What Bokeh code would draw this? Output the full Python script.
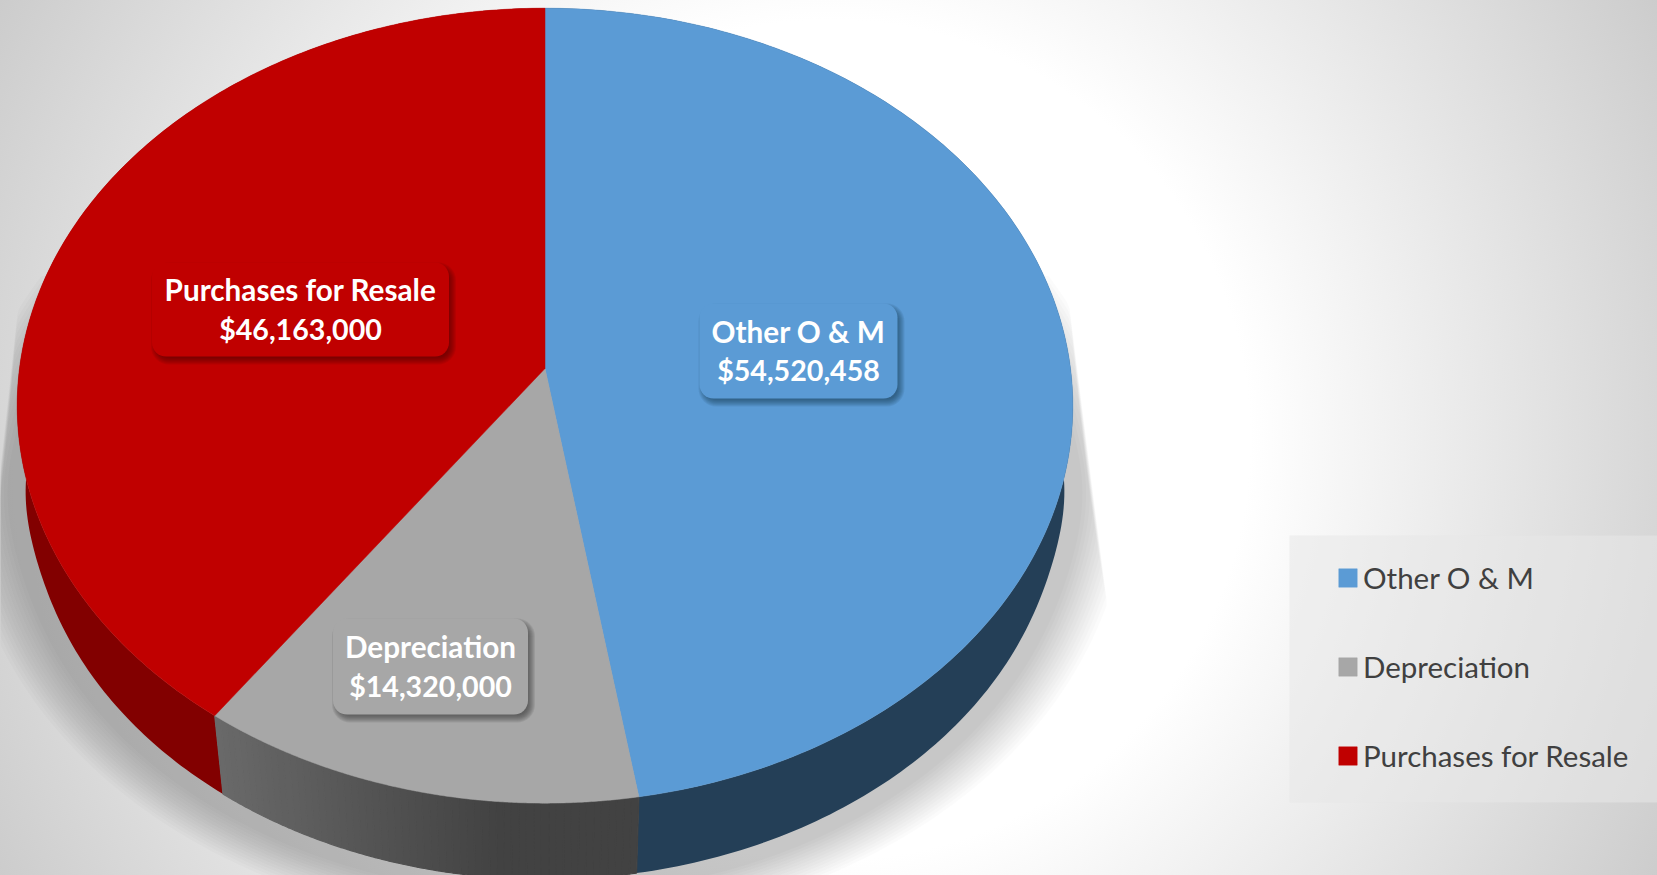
import numpy as np
from bokeh.core.properties import value
from bokeh.embed import file_html
from bokeh.models import Legend, LegendItem, Range1d
from bokeh.plotting import figure
from bokeh.resources import INLINE

# ---- data ----
categories = ["Other O & M", "Depreciation", "Purchases for Resale"]
amounts = [54520458, 14320000, 46163000]
top_colors = ["#5B9BD5", "#A7A7A7", "#C00000"]
wall_colors = ["#243F57", "#444444", "#820000"]
shadow_box_colors = ["#1F3D5C", "#3A3A3A", "#500000"]

# ---- layout (reference pixel space) ----
W, H = 1657, 875
CX, CY = 544.5, 368.0      # apex on the top face
A, B, K = 525.5, 394.0, 0.0935  # perspective projection of the unit disc
S, CY2 = 0.975, 455.0      # lower face of the 3-D pie
box_centres = [(798, 350.5), (430, 666), (300, 309)]
box_sizes = [(198, 95), (195, 96), (297, 94)]


def rim(deg):
    t = np.radians(deg)
    u, v = np.sin(t), np.cos(t)
    w = 1 + K * v
    return CX + A * u / w, CY - B * v / w


def lower(x, y):
    s = S + 0.009 * np.exp(-(((y - CY - 37) / 70) ** 2))
    return CX + s * (x - CX), CY2 + S * (y - CY)


def rounded(cx, cy, w, h, r=14, grow=0.0):
    w, h, r = w + 2 * grow, h + 2 * grow, r + grow
    xs, ys = [], []
    corners = [(cx + w / 2 - r, cy - h / 2 + r, -90), (cx + w / 2 - r, cy + h / 2 - r, 0),
               (cx - w / 2 + r, cy + h / 2 - r, 90), (cx - w / 2 + r, cy - h / 2 + r, 180)]
    for ox, oy, a0 in corners:
        a = np.radians(np.linspace(a0, a0 + 90, 9))
        xs += list(ox + r * np.cos(a))
        ys += list(oy + r * np.sin(a))
    return xs, ys


p = figure(width=W, height=H, x_range=Range1d(0, W), y_range=Range1d(H, 0),
           output_backend="svg", toolbar_location=None, min_border=0,
           margin=(0, 0, 0, 0))
p.axis.visible = False
p.grid.visible = False
p.outline_line_color = None
p.background_fill_alpha = 0
p.border_fill_alpha = 0
p.styles = {
    "background": "radial-gradient(circle at 830px 440px, #ffffff 0px, #ffffff 420px, #cbcbcb 950px)"
}

# ---- drop shadow: stacked translucent outlines clipped to a wedge ----
deg_all = np.linspace(0, 360, 361)
rx, ry = rim(deg_all)
lx, ly = lower(rx, ry)
N = 14
for i in range(N):
    d = 66 - (66 - 18) * i / (N - 1)
    grow = (528.5 * S + d) / (528.5 * S)
    sx = CX + grow * (lx - CX)
    sy = (CY2 + 40 * S) + grow * (ly - (CY2 + 40 * S)) + 2
    left_edge = 21 - 0.11 * (sy - 275) + 0.3 * i
    right_edge = 1065 + 0.127 * (sy - 275) - 0.3 * i
    sx = np.clip(sx, left_edge, right_edge)
    sy = np.maximum(sy, 275 + 6 * i)
    p.patch(sx, sy, fill_color="black", fill_alpha=0.0165, line_color=None)

# ---- walls and top faces, all from the amounts ----
fractions = np.array(amounts) / sum(amounts)
edges = np.concatenate([[0], np.cumsum(fractions) * 360])
spans = [np.linspace(edges[i], edges[i + 1], 200) for i in range(3)]

for i in (0, 2):
    tx, ty = rim(spans[i])
    bx, by = lower(tx, ty)
    p.patch(np.r_[tx, bx[::-1]], np.r_[ty, by[::-1]], fill_color=wall_colors[i], line_color=None)

# gradient on the wall of the small slice
strip = np.linspace(edges[1], edges[2], 61)
for a0, a1 in zip(strip[:-1], strip[1:]):
    seg = np.linspace(a0, a1, 4)
    tx, ty = rim(seg)
    bx, by = lower(tx, ty)
    t = np.clip((500 - tx.mean()) / 286, 0, 1)
    g = int(0x42 + (0x6A - 0x42) * t)
    c = f"#{g:02x}{g:02x}{g:02x}"
    p.patch(np.r_[tx, bx[::-1]], np.r_[ty, by[::-1]], fill_color=c, line_color=c, line_width=1.2)

faces = []
for i in range(3):
    tx, ty = rim(spans[i])
    faces.append(p.patch(np.r_[CX, tx], np.r_[CY, ty], fill_color=top_colors[i],
                         line_color=top_colors[i], line_width=0.5))

# ---- data labels ----
for i in range(3):
    cx, cy = box_centres[i]
    w, h = box_sizes[i]
    for g in range(8):
        sx, sy = rounded(cx + 3, cy + 4, w, h, grow=4 - g)
        p.patch(sx, sy, fill_color=shadow_box_colors[i], fill_alpha=0.11, line_color=None)
    bx, by = rounded(cx, cy, w, h)
    p.patch(bx, by, fill_color=top_colors[i], line_color=None)
    p.text([cx], [cy - 20], text=[categories[i]], text_color="white", text_align="center",
           text_baseline="middle", text_font=value("Lato"), text_font_style="bold",
           text_font_size="29.7px")
    p.text([cx], [cy + 19], text=[f"${amounts[i]:,}"], text_color="white", text_align="center",
           text_baseline="middle", text_font=value("Lato"), text_font_style="bold",
           text_font_size="28.6px")

# ---- legend ----
p.quad(left=[1289], right=[W], top=[535], bottom=[802], fill_color="#E7E7E7",
       fill_alpha=0.55, line_color=None)
legend = Legend(
    items=[LegendItem(label=categories[i], renderers=[faces[i]]) for i in range(3)],
    location=(1336, 102), orientation="vertical", padding=0, margin=0, spacing=54,
    glyph_width=23, glyph_height=23, label_standoff=4,
    label_text_font="Lato", label_text_font_size="29.5px", label_text_color="#404040",
    background_fill_alpha=0, border_line_color=None,
)
p.add_layout(legend, "center")

open("out.html", "w").write(file_html(p, INLINE))
